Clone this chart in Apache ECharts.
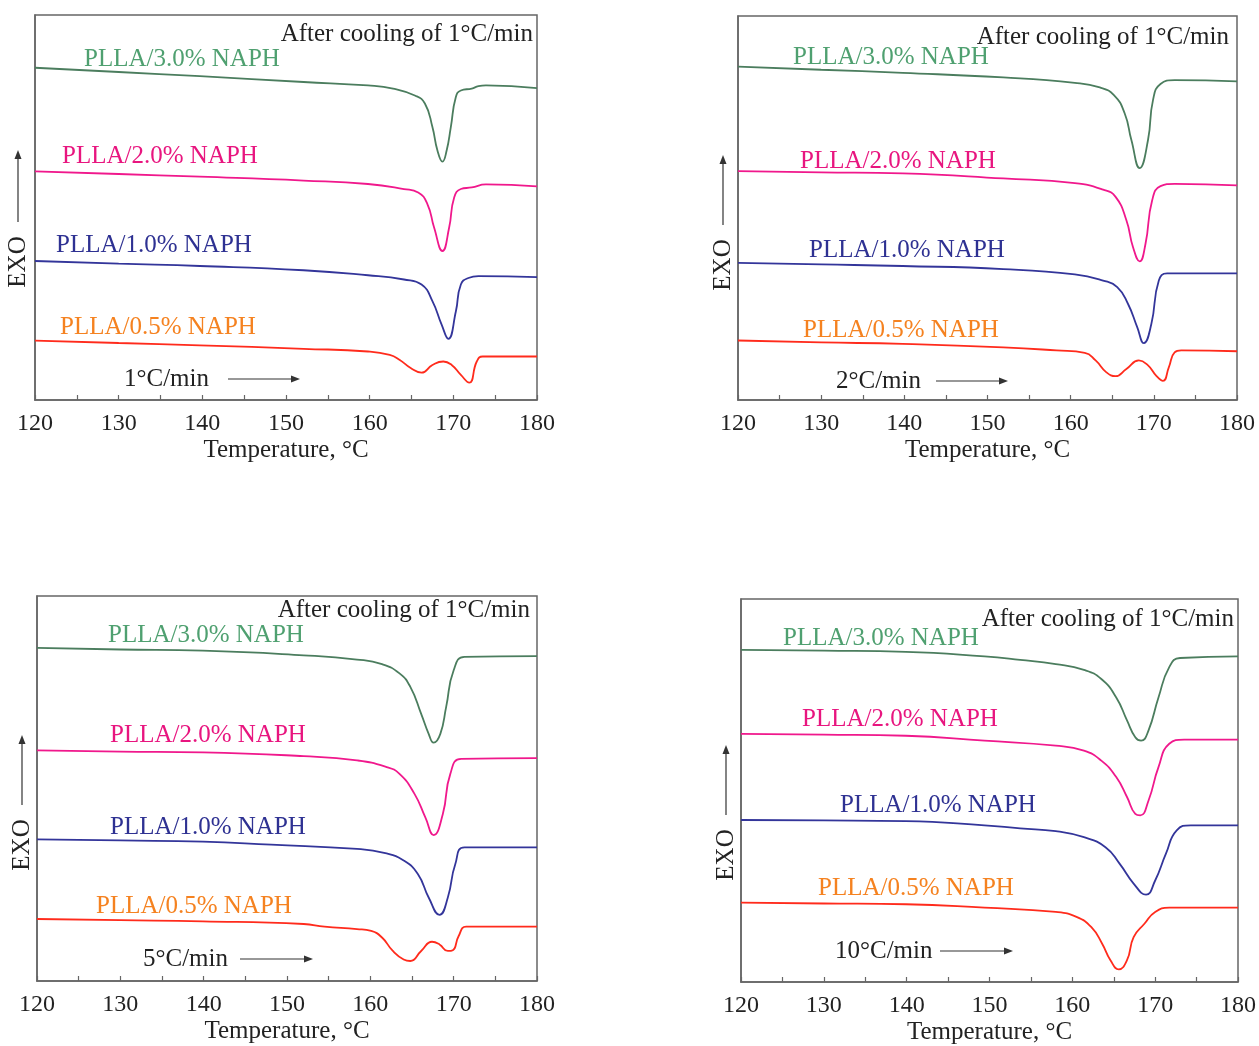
<!DOCTYPE html>
<html>
<head>
<meta charset="utf-8">
<script src="https://cdn.jsdelivr.net/npm/echarts@6/dist/echarts.min.js"></script>
<style>
html,body{margin:0;padding:0;background:#fff;}
#chart{width:1259px;height:1046px;}
</style>
</head>
<body>
<div id="chart"></div>
<script>
// ---- Data (temperature °C, heat flow in arbitrary units, shifted for display) ----
var seriesNames = ['PLLA/3.0% NAPH', 'PLLA/2.0% NAPH', 'PLLA/1.0% NAPH', 'PLLA/0.5% NAPH'];
var xTicks = [120, 130, 140, 150, 160, 170, 180];
var panelRates = ['1°C/min', '2°C/min', '5°C/min', '10°C/min'];
var noteText = 'After cooling of 1°C/min';

// Panel 1: heating 1 °C/min
var p1Green = [[120,86.3],[130,85.2],[139.7,84.1],[152.1,82.6],[159.8,81.7],[162.8,80.9],[165.4,79.1],[166.6,77.0],[167.5,70.9],[168.1,64.8],[168.7,61.9],[169.2,64.8],[169.7,70.9],[170.3,78.7],[170.9,80.4],[172.2,80.9],[173.0,81.5],[173.9,81.7],[180,81.0]];
var p1Pink  = [[120,59.4],[130,58.7],[139.7,58.0],[152.1,57.0],[159.8,56.1],[164.1,54.8],[165.8,53.9],[166.9,50.9],[167.7,44.8],[168.7,38.7],[169.5,44.8],[170.1,52.6],[170.9,54.8],[172.2,55.2],[173.9,56.0],[180,55.5]];
var p1Blue  = [[120,36.1],[130,35.4],[139.7,34.8],[152.1,33.7],[159.8,32.4],[164.1,31.3],[166.2,30.0],[167.5,25.7],[168.6,19.6],[169.4,15.9],[170.3,23.0],[170.9,30.0],[171.8,31.7],[173.0,32.2],[180,31.9]];
var p1Red   = [[120,15.4],[130,14.8],[139.7,14.2],[152.1,13.3],[159.8,12.6],[162.4,11.7],[163.6,10.4],[164.9,8.3],[166.2,7.1],[167.5,9.1],[168.8,10.0],[169.8,9.1],[170.9,6.5],[171.9,4.5],[172.8,10.0],[173.5,11.3],[180,11.3]];

// Panel 2: heating 2 °C/min
var p2Green = [[120,86.8],[130,86.0],[139.8,85.2],[151.9,84.0],[160.5,82.6],[163.5,81.4],[165.2,79.4],[166.5,74.6],[167.3,67.7],[168.3,60.4],[169.3,67.7],[169.9,78.1],[170.8,82.3],[172.5,83.3],[180,83.0]];
var p2Pink  = [[120,59.6],[130,59.3],[139.8,59.0],[151.9,57.7],[160.5,56.5],[163.9,54.8],[165.4,52.9],[166.7,46.8],[167.5,39.8],[168.3,36.1],[169.0,40.7],[169.8,52.0],[170.8,55.7],[172.5,56.3],[180,55.9]];
var p2Blue  = [[120,35.7],[130,35.3],[139.8,34.9],[151.9,34.1],[160.5,32.7],[163.9,31.1],[165.6,29.4],[166.9,25.0],[168.0,19.0],[168.8,14.8],[169.7,19.8],[170.6,31.1],[171.6,33.0],[180,33.0]];
var p2Red   = [[120,15.5],[130,15.0],[139.8,14.6],[151.9,13.7],[158.3,12.9],[161.7,12.3],[163.0,10.3],[164.3,7.2],[165.4,6.2],[166.7,8.1],[168.2,10.3],[169.3,9.0],[170.3,6.3],[171.1,5.0],[171.8,8.5],[172.5,12.4],[173.3,12.9],[180,12.7]];

// Panel 3: heating 5 °C/min
var p3Green = [[120,86.5],[130,86.1],[139.9,85.8],[152.0,84.6],[158.4,83.5],[161.4,82.3],[163.5,79.9],[164.8,76.4],[166.1,69.4],[167.0,64.2],[167.6,61.9],[168.4,64.2],[169.1,71.2],[170.0,80.7],[171.3,84.2],[180,84.4]];
var p3Pink  = [[120,59.9],[130,59.6],[139.9,59.4],[152.0,58.4],[158.4,57.3],[161.8,55.7],[163.5,53.8],[165.3,48.6],[166.6,42.5],[167.6,37.9],[168.7,43.4],[169.6,53.8],[170.9,57.7],[180,57.9]];
var p3Blue  = [[120,36.8],[130,36.5],[139.9,36.2],[148.1,35.4],[158.4,34.3],[161.8,33.2],[164.0,31.3],[165.7,27.8],[167.0,21.7],[168.3,17.2],[169.3,21.7],[170.2,30.4],[171.3,34.7],[180,34.7]];
var p3Red   = [[120,16.1],[130,15.8],[139.9,15.5],[152.0,14.8],[154.5,14.1],[158.4,13.5],[160.1,13.0],[161.4,11.3],[162.7,7.8],[164.0,5.6],[164.8,5.2],[166.1,7.8],[167.4,10.2],[168.3,9.5],[169.3,7.8],[169.9,8.0],[170.6,11.7],[171.5,14.1],[180,14.1]];

// Panel 4: heating 10 °C/min
var p4Green = [[120,86.7],[130,86.5],[139.9,86.2],[149.4,85.0],[153.7,84.1],[158.0,83.0],[161.4,81.5],[163.5,79.1],[165.3,74.3],[166.6,68.3],[167.6,63.9],[168.3,63.0],[169.2,65.7],[170.4,74.3],[171.7,82.2],[173.0,84.6],[180,85.0]];
var p4Pink  = [[120,64.8],[130,64.6],[139.9,64.3],[149.4,63.0],[158.0,61.7],[161.4,60.4],[163.5,57.8],[165.3,53.5],[166.6,48.3],[167.6,43.9],[168.2,43.5],[169.2,47.4],[170.4,56.1],[171.7,62.2],[173.5,63.3],[180,63.3]];
var p4Blue  = [[120,42.3],[130,42.2],[139.9,42.0],[149.4,40.9],[153.7,40.1],[158.0,39.4],[161.4,37.8],[164.0,35.2],[165.7,30.9],[167.4,25.7],[168.9,22.8],[170.0,26.5],[171.3,33.5],[172.6,39.6],[174.3,40.9],[180,40.9]];
var p4Red   = [[120,20.7],[130,20.5],[139.9,20.3],[149.4,19.4],[158.0,18.3],[160.5,17.0],[162.3,14.3],[163.6,10.0],[164.6,5.7],[165.6,3.3],[166.6,5.7],[167.4,11.7],[168.7,15.2],[170.0,18.3],[171.7,19.4],[180,19.4]];

var panelData = [
  [p1Green, p1Pink, p1Blue, p1Red],
  [p2Green, p2Pink, p2Blue, p2Red],
  [p3Green, p3Pink, p3Blue, p3Red],
  [p4Green, p4Pink, p4Blue, p4Red]
];

// ---- Styles / layout ----
var lineColors  = ['#4b7d5e', '#f0188c', '#33359a', '#ff2b1c'];
var labelColors = ['#4fa070', '#e8157f', '#2e3192', '#f58220'];
var FONT = '"Liberation Serif", "DejaVu Serif", serif';
var FS = 25;
var FS_TICK = 24;

var grids = [
  {left: 35,  top: 15,  width: 502, height: 385},
  {left: 738, top: 16,  width: 499, height: 384},
  {left: 37,  top: 596, width: 500, height: 385},
  {left: 741, top: 599, width: 499, height: 384}
];
// label anchor positions (absolute px) per panel: [x of left edge, y center]
var labelPos = [
  [[84,59],[62,156],[56,245],[60,327]],
  [[793,57],[800,161],[809,250],[803,330]],
  [[108,635],[110,735],[110,827],[96,906]],
  [[783,638],[802,719],[840,805],[818,888]]
];
var notePos = [[533,34],[1229,37],[530,610],[1234,619]];
var ratePos = [[124,379,228,300],[836,381,936,1008],[143,959,240,313],[835,951,940,1013]];
var exoPos  = [[18,262,222,150],[723,265,225,155],[22,845,805,735],[726,855,815,745]];

var option = {
  animation: false,
  backgroundColor: '#fff',
  grid: [], xAxis: [], yAxis: [], series: [], graphic: []
};

function arrowHead(x, y, dir) {
  var pts = dir === 'right'
    ? [[x, y], [x - 9, y - 3.5], [x - 9, y + 3.5]]
    : [[x, y], [x - 3.5, y + 9], [x + 3.5, y + 9]];
  return {type: 'polygon', shape: {points: pts}, style: {fill: '#333'}};
}

for (var p = 0; p < 4; p++) {
  var g = grids[p];
  option.grid.push({left: g.left, top: g.top, width: g.width, height: g.height,
    show: true, borderColor: '#666', borderWidth: 1.5, backgroundColor: 'transparent'});
  option.xAxis.push({
    gridIndex: p, type: 'value', min: 120, max: 180, interval: 5,
    name: 'Temperature, °C', nameLocation: 'middle', nameGap: 38,
    nameTextStyle: {fontFamily: FONT, fontSize: FS, color: '#222'},
    axisLine: {show: true, lineStyle: {color: '#666', width: 1.5}},
    axisTick: {show: true, inside: true, length: 5, lineStyle: {color: '#666', width: 1.2}},
    axisLabel: {margin: 12, fontFamily: FONT, fontSize: FS_TICK, color: '#222',
      formatter: function (v) { return xTicks.indexOf(v) >= 0 ? String(v) : ''; }},
    splitLine: {show: false}
  });
  option.yAxis.push({
    gridIndex: p, type: 'value', min: 0, max: 100,
    axisLine: {show: true, lineStyle: {color: '#666', width: 1.5}},
    axisTick: {show: false}, axisLabel: {show: false}, splitLine: {show: false}
  });
  for (var s = 0; s < 4; s++) {
    option.series.push({
      type: 'line', name: seriesNames[s] + ' (' + panelRates[p] + ')',
      xAxisIndex: p, yAxisIndex: p, data: panelData[p][s],
      showSymbol: false, smooth: 0.5,
      lineStyle: {color: lineColors[s], width: 1.8}, itemStyle: {color: lineColors[s]}
    });
    option.graphic.push({type: 'text', x: labelPos[p][s][0], y: labelPos[p][s][1],
      style: {text: seriesNames[s], fill: labelColors[s], font: FS + 'px ' + FONT,
        textAlign: 'left', textVerticalAlign: 'middle'}});
  }
  option.graphic.push({type: 'text', x: notePos[p][0], y: notePos[p][1],
    style: {text: noteText, fill: '#222', font: FS + 'px ' + FONT,
      textAlign: 'right', textVerticalAlign: 'middle'}});
  var r = ratePos[p];
  option.graphic.push({type: 'text', x: r[0], y: r[1],
    style: {text: panelRates[p], fill: '#222', font: FS + 'px ' + FONT,
      textAlign: 'left', textVerticalAlign: 'middle'}});
  option.graphic.push({type: 'line', shape: {x1: r[2], y1: r[1], x2: r[3] - 6, y2: r[1]},
    style: {stroke: '#333', lineWidth: 1.2}});
  option.graphic.push(arrowHead(r[3], r[1], 'right'));
  var e = exoPos[p];
  option.graphic.push({type: 'text', x: e[0], y: e[1], rotation: Math.PI / 2,
    style: {text: 'EXO', fill: '#222', font: FS + 'px ' + FONT,
      textAlign: 'center', textVerticalAlign: 'middle'}});
  option.graphic.push({type: 'line', shape: {x1: e[0], y1: e[2], x2: e[0], y2: e[3] + 6},
    style: {stroke: '#333', lineWidth: 1.2}});
  option.graphic.push(arrowHead(e[0], e[3], 'up'));
}

var chart = echarts.init(document.getElementById('chart'), null, {renderer: 'canvas'});
chart.setOption(option);
</script>
</body>
</html>
